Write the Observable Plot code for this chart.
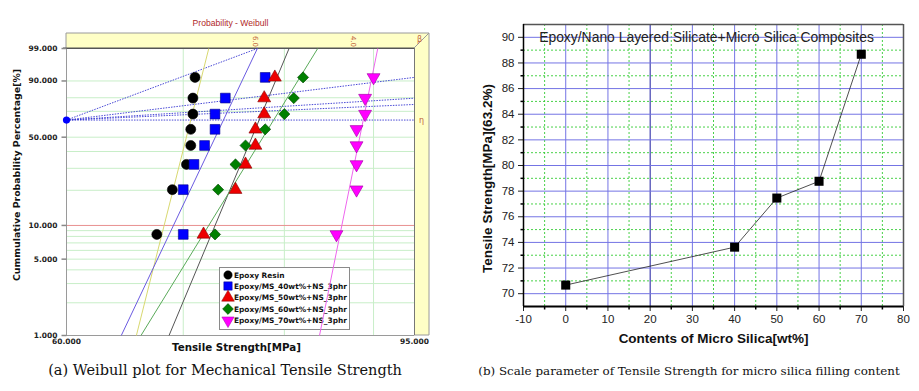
<!DOCTYPE html>
<html><head><meta charset="utf-8">
<script src="https://cdn.jsdelivr.net/npm/d3@7"></script>
<script src="https://cdn.jsdelivr.net/npm/@observablehq/plot@0.6"></script>
<style>
body{margin:0;background:#fff;}
#wrap{position:relative;width:919px;height:391px;overflow:hidden;background:#fff;}
#left{position:absolute;left:0;top:0;}
#right{position:absolute;left:460px;top:0;}
.cap{position:absolute;font-family:"DejaVu Serif",serif;color:#111;white-space:nowrap;text-align:center;}
#capA{left:0;width:450px;top:362px;font-size:14.5px;}
#capB{left:474px;width:430px;top:364px;font-size:11.9px;}
</style></head><body>
<div id="wrap"><div id="left"></div><div id="right"></div>
<div class="cap" id="capA">(a) Weibull plot for Mechanical Tensile Strength</div>
<div class="cap" id="capB">(b) Scale parameter of Tensile Strength for micro silica filling content</div>
</div>
<script>
// ---------- (a) Weibull probability plot data ----------
const medianRankPct = [8.33, 20.24, 32.14, 44.05, 55.95, 67.86, 79.76, 91.67];
const epoxyResin = [67.6, 69.0, 70.3, 70.7, 70.7, 70.9, 70.9, 71.1];
const ms40 = [70.0, 70.0, 71.0, 72.0, 73.0, 73.0, 74.0, 78.0];
const ms50 = [71.9, 75.0, 76.0, 77.0, 77.0, 77.9, 77.9, 79.0];
const ms60 = [73.0, 73.3, 75.0, 76.0, 78.0, 80.0, 81.0, 82.0];
const ms70 = [85.7, 88.0, 88.0, 88.0, 88.0, 89.0, 89.0, 90.0];
const seriesNames = ["Epoxy Resin", "Epoxy/MS_40wt%+NS_3phr", "Epoxy/MS_50wt%+NS_3phr", "Epoxy/MS_60wt%+NS_3phr", "Epoxy/MS_70wt%+NS_3phr"];
// fitted Weibull lines: strength at 1% and at 99% probability
const fitAt1Pct = [65.8, 64.5, 68.7, 66.2, 83.8];
const fitAt99Pct = [72.4, 77.2, 80.5, 83.6, 90.5];
// beta-scale construction lines from the eta pivot
const pivotX = 60, pivotPct = 63.2;
const betaLineEndX = [77.2, 95, 95, 95, 95];
const betaLineEndPct = [99, 91.67, 79.7, 75.2, 63.2];
const betaScaleX = [77.3, 87.9];
const betaScaleText = ["6.0", "4.0"];
const gridPct = [2, 3, 4, 5, 6, 7, 8, 9, 20, 30, 40, 50, 70, 80, 90];
const gridX = [70, 80, 90];
const yTickPct = [1, 5, 10, 50, 90, 99];
const yTickText = ["1.000", "5.000", "10.000", "50.000", "90.000", "99.000"];
const xTickVal = [60, 95];
const xTickText = ["60.000", "95.000"];

// ---------- (b) scale parameter data ----------
const microSilicaWt = [0, 40, 50, 60, 70];
const scaleParamMPa = [70.67, 73.63, 77.46, 78.77, 88.68];
const xTicksB = [-10, 0, 10, 20, 30, 40, 50, 60, 70, 80];
const yTicksB = [70, 72, 74, 76, 78, 80, 82, 84, 86, 88, 90];
const xMinorB = [-5, 5, 15, 25, 35, 45, 55, 65, 75];
const yMinorB = [71, 73, 75, 77, 79, 81, 83, 85, 87, 89];

// ---------- styles ----------
const colors = ["#000000", "#0000ff", "#ee0000", "#008000", "#ff00ff"];
const edge = ["#000000", "#00008a", "#800000", "#004000", "#a000a0"];
const lineColors = ["#d8d870", "#6a5ae0", "#555555", "#5aaa5a", "#ee66ee"];
const triDown = {draw(ctx, size) {
  const y = -Math.sqrt(size / (Math.sqrt(3) * 3));
  ctx.moveTo(0, -2 * y); ctx.lineTo(Math.sqrt(3) * y, y); ctx.lineTo(-Math.sqrt(3) * y, y); ctx.closePath();
}};
const symbols = ["circle", "square", "triangle", "diamond2", triDown];
const radii = [5, 5.5, 4.8, 5, 4.8];
const tickLeft = len => ({draw(ctx) { ctx.moveTo(0, 0); ctx.lineTo(-len, 0); }});
const tickDown = len => ({draw(ctx) { ctx.moveTo(0, 0); ctx.lineTo(0, len); }});

const W = F => Math.log(-Math.log(1 - F / 100));
const seriesVals = [epoxyResin, ms40, ms50, ms60, ms70];
const pts = seriesVals.map(vals => vals.map((v, i) => ({x: v, F: medianRankPct[i]})));
const fits = fitAt1Pct.map((lo, i) => ({lo, hi: fitAt99Pct[i]}));
const betaLines = betaLineEndX.map((x, i) => ({x, F: betaLineEndPct[i]}));

const L = {w: 460, h: 362, ml: 66, mr: 46, mt: 48, mb: 27};
const leftFont = "DejaVu Sans, Verdana, sans-serif";

const marksA = [
  Plot.ruleX(gridX, {x: d => d, stroke: "#c8eec8", strokeWidth: 1}),
  Plot.ruleY(gridPct, {y: d => d, stroke: "#c8eec8", strokeWidth: 1}),
  Plot.ruleY([10], {y: d => d, stroke: "#e89090", strokeWidth: 1}),
  Plot.ruleX([60], {x: d => d, stroke: "#9a9a9a"}),
  Plot.ruleY([1], {y: d => d, stroke: "#9a9a9a"}),
  Plot.ruleX([95], {x: d => d, stroke: "#777"}),
  Plot.ruleY([99], {y: d => d, stroke: "#555"}),
];
const legendIndex = marksA.length;
marksA.push(
  Plot.link(betaLines, {x1: pivotX, y1: pivotPct, x2: "x", y2: "F", stroke: "#3434d0", strokeWidth: 0.9, strokeDasharray: "1.5,1.2"}),
  ...fits.map((f, i) => Plot.link([f], {x1: "lo", y1: 1, x2: "hi", y2: 99, stroke: lineColors[i], strokeWidth: 1})),
  Plot.dot([{x: pivotX, F: pivotPct}], {x: "x", y: "F", fill: "#0000ff", r: 3.6}),
  ...pts.map((p, i) => Plot.dot(p, {x: "x", y: "F", symbol: symbols[i], r: radii[i], fill: colors[i], stroke: edge[i], strokeWidth: 0.6})),
  Plot.dot(yTickPct, {x: 60, y: d => d, symbol: tickLeft(5), stroke: "#888", fill: "none"}),
  Plot.text(yTickPct, {y: d => d, text: (d, i) => yTickText[i], frameAnchor: "left", dx: -9, textAnchor: "end", fontWeight: "bold", fontSize: 7.5, fill: "#222"}),
  Plot.text(xTickVal, {x: d => d, text: (d, i) => xTickText[i], frameAnchor: "bottom", dy: 8, textAnchor: "middle", fontWeight: "bold", fontSize: 7.5, fill: "#222"}),
  Plot.text(betaScaleX, {x: d => d, text: (d, i) => betaScaleText[i], frameAnchor: "top", dy: -7, rotate: 90, textAnchor: "middle", fontSize: 7, fill: "#c0603a"}),
  Plot.text(["Tensile Strength[MPa]"], {text: d => d, frameAnchor: "bottom", dy: 15, dx: -4, textAnchor: "middle", fontWeight: "bold", fontSize: 10.3, fill: "#111"}),
  Plot.text(["Cummulative Probability Percentage[%]"], {text: d => d, frameAnchor: "left", dx: -50, dy: -17, rotate: -90, textAnchor: "middle", fontWeight: "bold", fontSize: 9.4, fill: "#111"}),
  Plot.text(["Probability - Weibull"], {text: d => d, frameAnchor: "top", dy: -29, dx: -10, textAnchor: "middle", fontSize: 8.6, fill: "#b02828", fontFamily: "Liberation Sans, Arial, sans-serif"})
);

const left = Plot.plot({
  width: L.w, height: L.h,
  marginLeft: L.ml, marginRight: L.mr, marginTop: L.mt, marginBottom: L.mb,
  style: {background: "transparent", fontFamily: leftFont, overflow: "visible"},
  x: {type: "log", domain: [60, 95], axis: null},
  y: {transform: W, domain: [W(1), W(99)], axis: null},
  marks: marksA
});
document.getElementById("left").appendChild(left);

// decorative yellow beta/eta band and legend
{
  const svg = d3.select(left);
  const x0 = L.ml, x1 = L.w - L.mr, y0 = L.mt, y1 = L.h - L.mb, band = 15;
  const firstG = svg.select(":scope > g").node();
  const deco = svg.insert("g", () => firstG);
  deco.append("rect").attr("x", x0).attr("y", y0 - band).attr("width", x1 - x0 + band).attr("height", band).attr("fill", "#ffffc6");
  deco.append("rect").attr("x", x1).attr("y", y0 - band).attr("width", band).attr("height", y1 - y0 + band).attr("fill", "#ffffc6");
  deco.append("path").attr("d", `M${x0},${y0}V${y0 - band}H${x1 + band}V${y1}H${x1}M${x1},${y0}L${x1 + band},${y0 - band}`).attr("fill", "none").attr("stroke", "#9a9a9a");
  deco.append("path").attr("d", `M${x0 - 3},${y0}H${x1}`).attr("stroke", "#555");
  deco.append("text").attr("x", x1 + 3).attr("y", y0 - 6).attr("text-anchor", "start").attr("font-size", 8).attr("fill", "#c0603a").text("β");
  deco.append("text").attr("x", x1 + 5).attr("y", 123).attr("text-anchor", "start").attr("font-size", 8).attr("fill", "#c0603a").text("η");

  const gs = svg.selectAll(":scope > g").nodes();
  const legendBefore = gs[legendIndex + 1];
  const lg = svg.insert("g", () => legendBefore).attr("text-anchor", "start");
  lg.append("rect").attr("x", 219.5).attr("y", 267.5).attr("width", 130).attr("height", 62).attr("fill", "#fff").attr("stroke", "#8a8a8a");
  const ly = [275, 286, 297.5, 309, 320.5];
  const lsym = [d3.symbolCircle, d3.symbolSquare, d3.symbolTriangle, d3.symbolDiamond2, d3.symbolTriangle];
  const lsize = [55, 70, 70, 75, 65];
  seriesNames.forEach((name, i) => {
    lg.append("path").attr("d", d3.symbol(lsym[i], lsize[i])()).attr("transform", `translate(228,${ly[i]})${i === 4 ? " rotate(180)" : ""}`)
      .attr("fill", colors[i]).attr("stroke", edge[i]).attr("stroke-width", 0.5);
    lg.append("text").attr("x", 234).attr("y", ly[i]).attr("dy", "0.35em").attr("text-anchor", "start").attr("font-size", 7.4).attr("font-weight", "bold").attr("fill", "#111").text(name);
  });
}

// ---------- (b) ----------
const dataB = microSilicaWt.map((x, i) => ({x, y: scaleParamMPa[i]}));
const right = Plot.plot({
  width: 459, height: 360,
  marginLeft: 63, marginRight: 16, marginTop: 24, marginBottom: 54,
  style: {background: "transparent", fontFamily: "Liberation Sans, Arial, sans-serif", fontSize: "11.5px", color: "#222", overflow: "visible"},
  x: {domain: [-10, 80], ticks: xTicksB, tickSize: 5, tickPadding: 3, tickFormat: d => String(d), label: null},
  y: {domain: [69, 91], ticks: yTicksB, tickSize: 5, tickPadding: 4, tickFormat: d => String(d), label: null},
  marks: [
    Plot.ruleX(xMinorB, {x: d => d, stroke: "#33cc33", strokeWidth: 0.9, strokeDasharray: "2,2"}),
    Plot.ruleY(yMinorB, {y: d => d, stroke: "#33cc33", strokeWidth: 0.9, strokeDasharray: "2,2"}),
    Plot.ruleX(xTicksB.filter(d => d > -10 && d < 80 && d !== 20), {x: d => d, stroke: "#7474e4", strokeWidth: 1}),
    Plot.ruleX([20], {x: d => d, stroke: "#1c1ca0", strokeWidth: 1}),
    Plot.ruleY(yTicksB, {y: d => d, stroke: "#7474e4", strokeWidth: 1}),
    Plot.ruleY([91], {y: d => d, stroke: "#555", strokeWidth: 1.5}),
    Plot.ruleX([80], {x: d => d, stroke: "#555", strokeWidth: 1.5}),
    Plot.ruleX([-10], {x: d => d, stroke: "#000", strokeWidth: 1.5}),
    Plot.ruleY([69], {y: d => d, stroke: "#000", strokeWidth: 2}),
    Plot.dot(xMinorB, {x: d => d, y: 69, symbol: tickDown(3), stroke: "#000", fill: "none"}),
    Plot.dot(yMinorB, {x: -10, y: d => d, symbol: tickLeft(3), stroke: "#000", fill: "none"}),
    Plot.line(dataB, {x: "x", y: "y", stroke: "#222", strokeWidth: 0.8}),
    Plot.dot(dataB, {x: "x", y: "y", symbol: "square", r: 5.1, fill: "#000", stroke: "none"}),
    Plot.text(["Epoxy/Nano Layered Silicate+Micro Silica Composites"], {text: d => d, frameAnchor: "top", dy: 8, dx: -7, textAnchor: "middle", fontSize: 13.9, fill: "#222"}),
    Plot.text(["Contents of Micro Silica[wt%]"], {text: d => d, frameAnchor: "bottom", dy: 36, textAnchor: "middle", fontWeight: "bold", fontSize: 13.5, fill: "#111"}),
    Plot.text(["Tensile Strength[MPa](63.2%)"], {text: d => d, frameAnchor: "left", dx: -36, dy: 13, rotate: -90, textAnchor: "middle", fontWeight: "bold", fontSize: 13.5, fill: "#111"})
  ]
});
document.getElementById("right").appendChild(right);
</script>
</body></html>
